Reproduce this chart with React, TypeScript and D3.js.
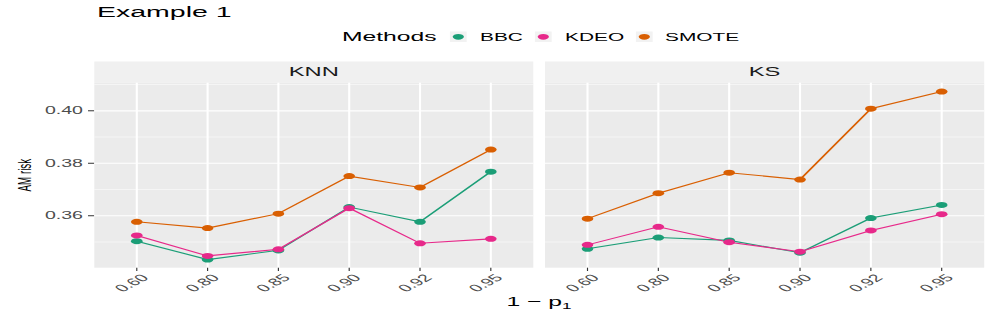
import React from 'react';
import * as d3 from 'd3';

// horizontal stretch of the original figure
const S = 1.9;
const W = 997 / S;
const H = 316;
const hx = (v: number) => v / S;

const xLabels = ['0.60', '0.80', '0.85', '0.90', '0.92', '0.95'];
const methods = ['BBC', 'KDEO', 'SMOTE'];
const colors = ['#1B9E77', '#E7298A', '#D95F02'];
const yTicks = [0.36, 0.38, 0.4];
const yMinor = [0.35, 0.37, 0.39, 0.41];

const knnBBC = [0.3503, 0.3433, 0.3468, 0.3633, 0.3577, 0.3768];
const knnKDEO = [0.3525, 0.3447, 0.3472, 0.3629, 0.3495, 0.3512];
const knnSMOTE = [0.3577, 0.3553, 0.3608, 0.3751, 0.3708, 0.3852];
const ksBBC = [0.3474, 0.3517, 0.3506, 0.3459, 0.3591, 0.3641];
const ksKDEO = [0.3489, 0.3558, 0.3499, 0.3463, 0.3544, 0.3606];
const ksSMOTE = [0.3589, 0.3686, 0.3764, 0.3738, 0.4008, 0.4073];

const panels = [
  { name: 'KNN', x0: 94.3, x1: 533.3, series: [knnBBC, knnKDEO, knnSMOTE] },
  { name: 'KS', x0: 545, x1: 984.2, series: [ksBBC, ksKDEO, ksSMOTE] },
];

const font = 'Liberation Sans, Arial, Helvetica, sans-serif';
const top = 82.7;
const bottom = 267.7;

const y = d3.scaleLinear().domain([0.3402, 0.4107]).range([bottom, top]);

const legendX = [458.3, 543.3, 644.3];
const legendLabelX = [480, 565, 665];

export default function App() {
  return (
    <svg
      width={997}
      height={H}
      viewBox={`0 0 ${W} ${H}`}
      preserveAspectRatio="none"
      style={{ position: 'absolute', left: 0, top: 0, background: '#fff' }}
      fontFamily={font}
    >
      <text x={hx(97)} y={17} fontSize={15}>Example 1</text>

      {/* legend */}
      <text x={hx(342)} y={41} fontSize={13}>Methods</text>
      {methods.map((m, i) => (
        <g key={m}>
          <rect x={hx(legendX[i] - 8.4)} y={31.5} width={hx(16.8)} height={10.5} fill="#F2F2F2" />
          <ellipse cx={hx(legendX[i])} cy={36.8} rx={hx(5.6)} ry={2.9} fill={colors[i]} />
          <text x={hx(legendLabelX[i])} y={41} fontSize={11}>{m}</text>
        </g>
      ))}

      {/* y axis */}
      {yTicks.map(t => (
        <g key={t}>
          <line x1={hx(88)} x2={hx(94.3)} y1={y(t)} y2={y(t)} stroke="#333" strokeWidth={1} />
          <text x={hx(83)} y={y(t)} dy="0.36em" textAnchor="end" fontSize={10.3} fill="#4D4D4D">
            {d3.format('.2f')(t)}
          </text>
        </g>
      ))}
      <text
        transform={`translate(${hx(31)},${(top + bottom) / 2}) rotate(-90)`}
        textAnchor="middle"
        fontSize={9.8}
      >
        AM risk
      </text>

      {panels.map(p => {
        const x = d3.scalePoint<string>().domain(xLabels).range([hx(p.x0), hx(p.x1)]).padding(0.6);
        const line = d3.line<number>()
          .x((_, i) => x(xLabels[i]) as number)
          .y(d => y(d));
        return (
          <g key={p.name}>
            <rect x={hx(p.x0)} y={61.5} width={hx(p.x1 - p.x0)} height={top - 61.5} fill="#F0F0F0" />
            <text x={hx((p.x0 + p.x1) / 2)} y={76} textAnchor="middle" fontSize={12.5} fill="#1A1A1A">
              {p.name}
            </text>
            <rect x={hx(p.x0)} y={top} width={hx(p.x1 - p.x0)} height={bottom - top} fill="#EBEBEB" />
            {yMinor.map(t => (
              <line key={t} x1={hx(p.x0)} x2={hx(p.x1)} y1={y(t)} y2={y(t)} stroke="#fff" strokeWidth={0.6} />
            ))}
            {yTicks.map(t => (
              <line key={t} x1={hx(p.x0)} x2={hx(p.x1)} y1={y(t)} y2={y(t)} stroke="#fff" strokeWidth={1.2} />
            ))}
            {xLabels.map(l => (
              <line key={l} x1={x(l)} x2={x(l)} y1={top} y2={bottom} stroke="#fff" strokeWidth={1.1} />
            ))}
            {p.series.map((s, i) => (
              <path key={i} d={line(s) as string} fill="none" stroke={colors[i]} strokeWidth={1.1} />
            ))}
            {p.series.map((s, i) =>
              s.map((v, j) => (
                <ellipse key={`${i}-${j}`} cx={x(xLabels[j])} cy={y(v)} rx={hx(5.8)} ry={3} fill={colors[i]} />
              ))
            )}
            {xLabels.map(l => (
              <g key={`t${l}`}>
                <line x1={x(l)} x2={x(l)} y1={bottom} y2={bottom + 3.3} stroke="#333" strokeWidth={0.6} />
                <text
                  transform={`translate(${(x(l) as number) + 1.5},${bottom + 5.5}) rotate(-45)`}
                  textAnchor="end"
                  dy="0.72em"
                  fontSize={10.3}
                  fill="#4D4D4D"
                >
                  {l}
                </text>
              </g>
            ))}
          </g>
        );
      })}

      <text x={hx(539)} y={306.5} textAnchor="middle" fontSize={13}>
        1 − p<tspan fontSize={9} dy={3}>1</tspan>
      </text>
    </svg>
  );
}
